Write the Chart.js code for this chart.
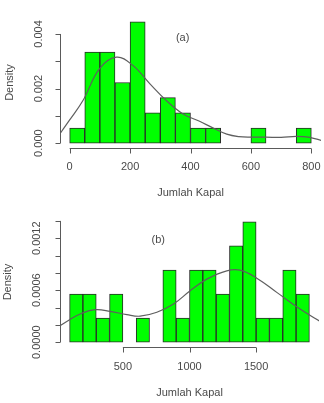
<!DOCTYPE html>
<html>
<head>
<meta charset="utf-8">
<script src="https://cdn.jsdelivr.net/npm/chart.js@4.4.1/dist/chart.umd.min.js"></script>
<style>
  html, body { margin: 0; padding: 0; background: #fff; }
  #wrap { position: relative; width: 324px; height: 403px; overflow: hidden; }
  .box { position: absolute; left: 0; width: 324px; }
  #boxA { top: 0; height: 200px; }
  #boxB { top: 200px; height: 203px; }
</style>
</head>
<body>
<div id="wrap">
  <div class="box" id="boxA"><canvas id="chartA"></canvas></div>
  <div class="box" id="boxB"><canvas id="chartB"></canvas></div>
</div>
<script>
// ---------- Panel (a) data ----------
const binStartA = [0, 50, 100, 150, 200, 250, 300, 350, 400, 450, 500, 550, 600, 650, 700, 750];
const binWidthA = 50;
const densityA = [0.000556, 0.003333, 0.003333, 0.002222, 0.004444, 0.001111, 0.001667, 0.001111,
                  0.000556, 0.000556, 0, 0, 0.000556, 0, 0, 0.000556];
const curveXA = [-35, 0, 44, 99, 155, 209, 265, 320, 374, 430, 474, 520, 560, 600, 650, 700, 750, 790, 840];
const curveYA = [0.0003, 0.00085, 0.00156, 0.00273, 0.00315, 0.00285, 0.00218, 0.00156, 0.00108,
                 0.0008, 0.00056, 0.00033, 0.00024, 0.00022, 0.00022, 0.00021, 0.00025, 0.00022, 0.00008];
const xTicksA = [0, 200, 400, 600, 800];
const yTicksA = [0, 0.001, 0.002, 0.003, 0.004];
const yLabelsA = ["0.000", "", "0.002", "", "0.004"];
const panelLabelA = "(a)";
const panelPosA = [374, 0.00387];

// ---------- Panel (b) data ----------
const binStartB = [100, 200, 300, 400, 500, 600, 700, 800, 900, 1000, 1100, 1200, 1300, 1400, 1500, 1600, 1700, 1800];
const binWidthB = 100;
const densityB = [0.000556, 0.000556, 0.000278, 0.000556, 0, 0.000278, 0, 0.000833, 0.000278,
                  0.000833, 0.000833, 0.000556, 0.001111, 0.001389, 0.000278, 0.000278, 0.000833, 0.000556];
const curveXB = [10, 100, 180, 292, 405, 530, 630, 755, 880, 1005, 1130, 1280, 1380, 1505, 1655, 1830, 2000];
const curveYB = [0.00017, 0.00026, 0.000326, 0.000375, 0.000356, 0.000318, 0.0003, 0.000345, 0.00044,
                 0.000594, 0.000728, 0.000824, 0.000831, 0.000739, 0.000575, 0.000383, 0.00022];
const xTicksB = [500, 1000, 1500];
const yTicksB = [0, 0.0002, 0.0004, 0.0006, 0.0008, 0.0010, 0.0012, 0.0014];
const yLabelsB = ["0.0000", "", "", "0.0006", "", "", "0.0012", ""];
const panelLabelB = "(b)";
const panelPosB = [765, 0.001185];

const xTitle = "Jumlah Kapal";
const yTitle = "Density";

const FONT = '"Liberation Sans", Arial, Helvetica, sans-serif';
const TXT = '#4a4a4a';
const AXIS = '#5a5a5a';

function makeChart(id, cfg) {
  const bars = cfg.binStart.map((b, i) => ({ x: b + cfg.binWidth / 2, y: cfg.density[i] }));
  const curve = cfg.curveX.map((x, i) => ({ x: x, y: cfg.curveY[i] }));

  const rAxes = {
    id: 'rAxes',
    afterDraw(chart) {
      const ctx = chart.ctx;
      const xs = chart.scales.x, ys = chart.scales.y;
      const a = chart.chartArea;
      ctx.save();
      ctx.strokeStyle = AXIS;
      ctx.lineWidth = 1;
      // x axis
      const yb = Math.round(a.bottom) + 0.5;
      const x0 = xs.getPixelForValue(cfg.xTicks[0]);
      const x1 = xs.getPixelForValue(cfg.xTicks[cfg.xTicks.length - 1]);
      ctx.beginPath();
      ctx.moveTo(x0, yb); ctx.lineTo(x1, yb);
      cfg.xTicks.forEach(t => {
        const px = Math.round(xs.getPixelForValue(t)) + 0.5;
        ctx.moveTo(px, yb); ctx.lineTo(px, yb + 5);
      });
      ctx.stroke();
      ctx.fillStyle = TXT;
      ctx.font = '11px ' + FONT;
      ctx.textAlign = 'center';
      ctx.textBaseline = 'middle';
      cfg.xTicks.forEach(t => {
        ctx.fillText(String(t), xs.getPixelForValue(t), a.bottom + cfg.xLabelOff);
      });
      ctx.fillText(xTitle, (a.left + a.right) / 2, a.bottom + cfg.xTitleOff);
      // y axis
      const xl = Math.round(a.left) + 0.5;
      const y0 = ys.getPixelForValue(cfg.yTicks[0]);
      const y1 = ys.getPixelForValue(cfg.yTicks[cfg.yTicks.length - 1]);
      ctx.beginPath();
      ctx.moveTo(xl, y0); ctx.lineTo(xl, y1);
      cfg.yTicks.forEach(t => {
        const py = Math.round(ys.getPixelForValue(t)) + 0.5;
        ctx.moveTo(xl, py); ctx.lineTo(xl - 5, py);
      });
      ctx.stroke();
      cfg.yTicks.forEach((t, i) => {
        const lab = cfg.yLabels[i];
        if (!lab) return;
        ctx.save();
        ctx.translate(a.left - cfg.yLabelOff, ys.getPixelForValue(t));
        ctx.rotate(-Math.PI / 2);
        ctx.fillText(lab, 0, 0);
        ctx.restore();
      });
      ctx.save();
      ctx.translate(a.left - cfg.yTitleOff, (a.top + a.bottom) / 2);
      ctx.rotate(-Math.PI / 2);
      ctx.fillText(yTitle, 0, 0);
      ctx.restore();
      // panel label
      ctx.fillText(cfg.panelLabel, xs.getPixelForValue(cfg.panelPos[0]), ys.getPixelForValue(cfg.panelPos[1]));
      ctx.restore();
    }
  };

  const hasBar = c => !!(c.raw && c.raw.y > 0);

  return new Chart(document.getElementById(id), {
    type: 'bar',
    data: {
      datasets: [
        {
          type: 'line',
          data: curve,
          borderColor: '#5f5f5f',
          borderWidth: 1.2,
          pointRadius: 0,
          tension: 0.4,
          fill: false,
          order: 0
        },
        {
          type: 'bar',
          data: bars,
          backgroundColor: c => hasBar(c) ? '#00ff00' : 'rgba(0,0,0,0)',
          borderColor: c => hasBar(c) ? '#2a2a2a' : 'rgba(0,0,0,0)',
          borderWidth: c => hasBar(c) ? 1 : 0,
          borderSkipped: false,
          barPercentage: 1,
          categoryPercentage: 1,
          grouped: false,
          order: 1
        }
      ]
    },
    options: {
      responsive: true,
      maintainAspectRatio: false,
      animation: false,
      devicePixelRatio: 1,
      layout: { padding: cfg.padding },
      plugins: { legend: { display: false }, tooltip: { enabled: false }, title: { display: false } },
      scales: {
        x: { type: 'linear', min: cfg.xMin, max: cfg.xMax, display: false, offset: false },
        y: { type: 'linear', min: cfg.yMin, max: cfg.yMax, display: false }
      }
    },
    plugins: [rAxes]
  });
}

makeChart('chartA', {
  binStart: binStartA, binWidth: binWidthA, density: densityA,
  curveX: curveXA, curveY: curveYA,
  xTicks: xTicksA, yTicks: yTicksA, yLabels: yLabelsA,
  panelLabel: panelLabelA, panelPos: panelPosA,
  xMin: -32, xMax: 832, yMin: -0.000178, yMax: 0.004622,
  padding: { left: 60, right: 3, top: 17, bottom: 52 },
  xLabelOff: 19, xTitleOff: 45, yLabelOff: 21, yTitleOff: 50
});

makeChart('chartB', {
  binStart: binStartB, binWidth: binWidthB, density: densityB,
  curveX: curveXB, curveY: curveYB,
  xTicks: xTicksB, yTicks: yTicksB, yLabels: yLabelsB,
  panelLabel: panelLabelB, panelPos: panelPosB,
  xMin: 28, xMax: 1972, yMin: -0.0000556, yMax: 0.001445,
  padding: { left: 60, right: 5, top: 17, bottom: 56 },
  xLabelOff: 20, xTitleOff: 46, yLabelOff: 23, yTitleOff: 52
});
</script>
</body>
</html>
